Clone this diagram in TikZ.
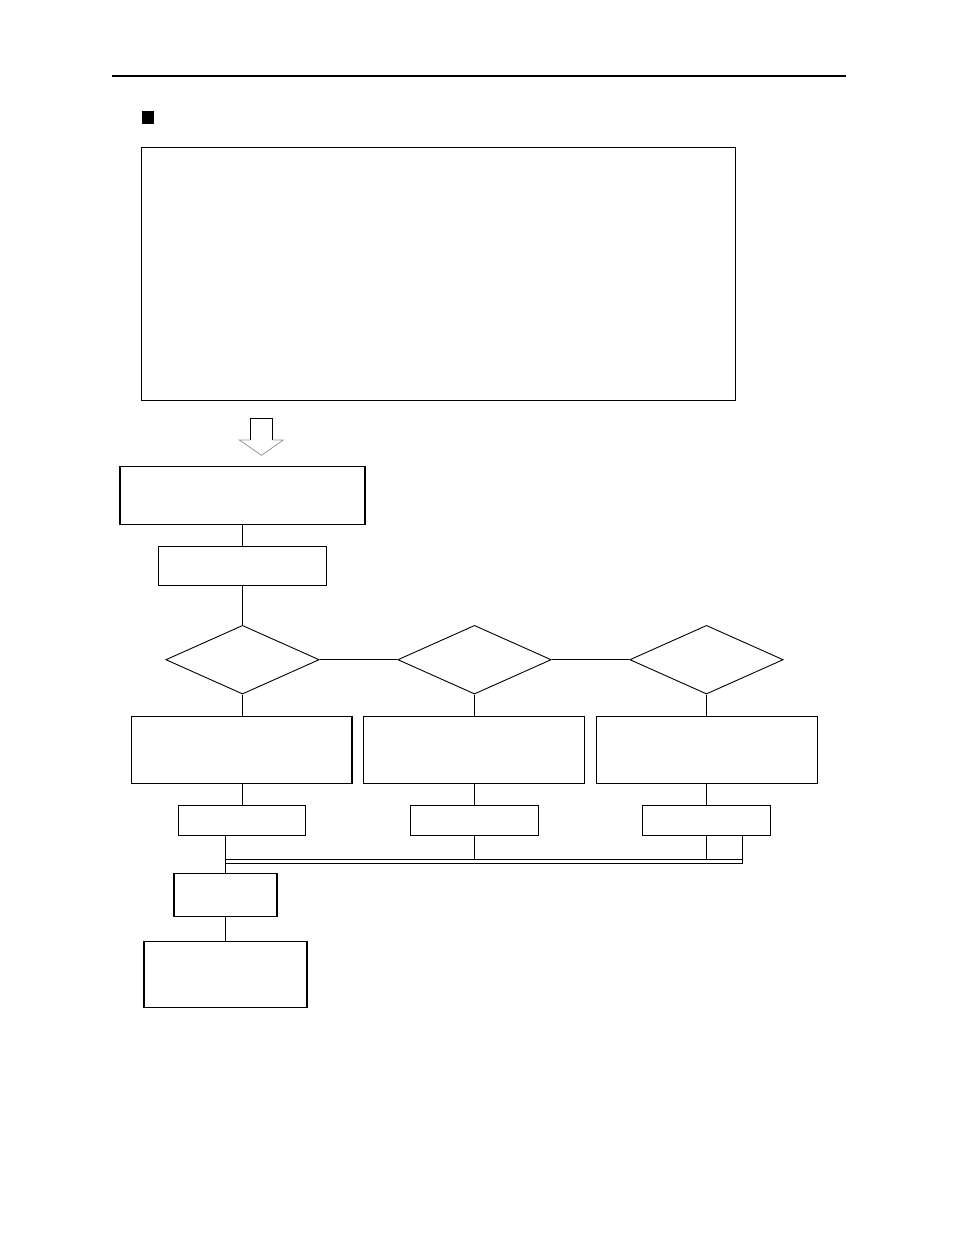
\documentclass[tikz,border=0pt]{standalone}
\usetikzlibrary{shapes.geometric}
\begin{document}
\begin{tikzpicture}[x=1pt,y=-1pt,
  boxst/.style={draw=black,line width=1.1pt,rectangle,inner sep=0pt,fill=white},
  dia/.style={draw=black,line width=0.9pt,diamond,inner sep=0pt,minimum width=153.4pt,minimum height=68.7pt},
  conn/.style={draw=black,line width=1.1pt},
  bus/.style={draw=black,line width=1.1pt}]
\useasboundingbox (0,0) rectangle (954,1235);
% header rule and bullet
\coordinate (ruleL) at (112,76);
\coordinate (ruleR) at (846,76);
\draw[line width=2.4pt] (ruleL) -- (ruleR);
\node[fill=black,inner sep=0pt,minimum width=12pt,minimum height=13pt] (bullet) at (148.2,117.6) {};
% big box
\node[boxst,minimum width=594.2pt,minimum height=253pt] (big) at (438.6,273.8) {};
% block arrow
\draw[black,line width=0.9pt] (250.5,440) -- (250.5,418.5) -- (272.5,418.5) -- (272.5,440);
\draw[gray!80,line width=0.8pt] (250.5,440) -- (239.3,440) -- (261.5,455.3) -- (283.3,440) -- (272.5,440);
% boxes
\node[boxst,minimum width=245pt,minimum height=58pt] (b1) at (242.5,495.3) {};
\node[boxst,minimum width=168.4pt,minimum height=39.3pt] (b2) at (242.5,565.7) {};
\node[dia] (d1) at (242.5,659.7) {};
\node[dia] (d2) at (474.5,659.7) {};
\node[dia] (d3) at (706.5,659.7) {};
\node[boxst,minimum width=220.6pt,minimum height=67.3pt] (ba) at (241.7,749.7) {};
\node[boxst,minimum width=221.3pt,minimum height=67.3pt] (bb) at (474,749.7) {};
\node[boxst,minimum width=221pt,minimum height=67.3pt] (bc) at (707,749.7) {};
\node[boxst,minimum width=127pt,minimum height=30.3pt] (sa) at (242,820.2) {};
\node[boxst,minimum width=128pt,minimum height=30.3pt] (sb) at (474.4,820.2) {};
\node[boxst,minimum width=128.4pt,minimum height=30.3pt] (sc) at (706.5,820.2) {};
\node[boxst,minimum width=103pt,minimum height=43pt] (bd) at (225.5,894.8) {};
\node[boxst,minimum width=163pt,minimum height=66pt] (be) at (225.5,974.3) {};
% connectors
\draw[conn] (b1.south) -- (b2.north);
\draw[conn] (b2.south) -- (d1.north);
\draw[conn] (d1.east) -- (d2.west);
\draw[conn] (d2.east) -- (d3.west);
\draw[conn] (d1.south) -- (d1.south |- ba.north);
\draw[conn] (d2.south) -- (d2.south |- bb.north);
\draw[conn] (d3.south) -- (d3.south |- bc.north);
\draw[conn] (d1.south |- ba.south) -- (d1.south |- sa.north);
\draw[conn] (d2.south |- bb.south) -- (d2.south |- sb.north);
\draw[conn] (d3.south |- bc.south) -- (d3.south |- sc.north);
% bus
\coordinate (busTL) at (225.5,859.5);
\coordinate (busTR) at (742.5,859.5);
\coordinate (busBL) at (225.5,863.5);
\coordinate (busBR) at (742.5,863.5);
\draw[bus] (busTL) -- (busTR);
\draw[bus] (busBL) -- (busBR);
\draw[bus] (sa.south -| bd.north) -- (bd.north);
\draw[conn] (d2.south |- sb.south) -- (d2.south |- busTL);
\draw[conn] (d3.south |- sc.south) -- (d3.south |- busTL);
\draw[conn] (sc.south -| busBR) -- (busBR);
\draw[bus] (bd.south) -- (be.north);
\end{tikzpicture}
\end{document}
